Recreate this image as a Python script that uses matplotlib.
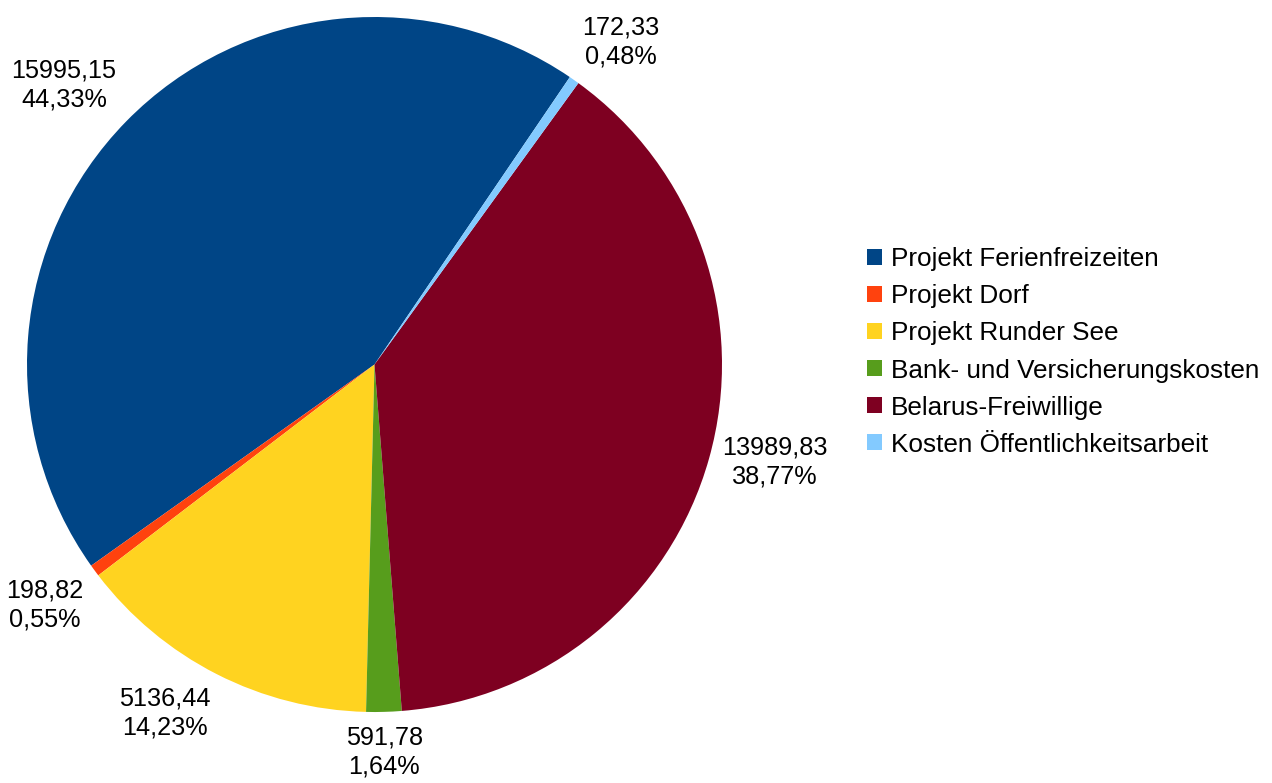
import matplotlib
matplotlib.use("Agg")
import matplotlib.pyplot as plt
import numpy as np
from matplotlib.patches import Patch

categories = [
    "Projekt Ferienfreizeiten",
    "Projekt Dorf",
    "Projekt Runder See",
    "Bank- und Versicherungskosten",
    "Belarus-Freiwillige",
    "Kosten Öffentlichkeitsarbeit",
]
amounts = [15995.15, 198.82, 5136.44, 591.78, 13989.83, 172.33]
colors = ["#004586", "#ff420e", "#ffd320", "#579d1c", "#7e0021", "#83caff"]

plt.rcParams["font.family"] = ["Liberation Sans", "DejaVu Sans"]

W, H = 1272, 783
fig = plt.figure(figsize=(W / 100, H / 100), dpi=100)
# pie box in pixels: centre (374.5, 364.5), radius 347.5
cx, cy, r = 374.5, 364.5, 347.5
ax = fig.add_axes([(cx - r) / W, (H - cy - r) / H, 2 * r / W, 2 * r / H])

wedges, _ = ax.pie(
    amounts,
    colors=colors,
    startangle=55.8,
    counterclock=True,
    radius=1.0,
    wedgeprops=dict(linewidth=0),
)
ax.set_xlim(-1, 1)
ax.set_ylim(-1, 1)
ax.set_aspect("equal")
ax.axis("off")


def de_num(value):
    return f"{value:.2f}".replace(".", ",")


total = sum(amounts)
for wedge, amount in zip(wedges, amounts):
    theta = ((wedge.theta1 + wedge.theta2) / 2) % 360
    rad = np.deg2rad(theta)
    octant = int(((theta + 22.5) % 360) // 45)
    ha = ["left", "left", "center", "right", "right", "right", "center", "left"][octant]
    va = ["center", "bottom", "bottom", "bottom", "center", "top", "top", "top"][octant]
    pct = amount / total * 100
    ax.text(
        1.04 * np.cos(rad),
        1.04 * np.sin(rad),
        f"{de_num(amount)}\n{pct:.2f}%".replace(".", ","),
        ha=ha,
        va=va,
        multialignment="center",
        fontsize=18.2,
        linespacing=1.27,
        clip_on=False,
    )

handles = [Patch(facecolor=c, edgecolor="none") for c in colors]
fig.legend(
    handles,
    categories,
    loc="center left",
    bbox_to_anchor=(867 / W, 1 - 352 / H),
    frameon=False,
    fontsize=18.8,
    handlelength=0.575,
    handleheight=0.575,
    handletextpad=0.345,
    labelspacing=0.5,
    borderpad=0,
    borderaxespad=0,
)

fig.savefig("out.png", dpi=100)
